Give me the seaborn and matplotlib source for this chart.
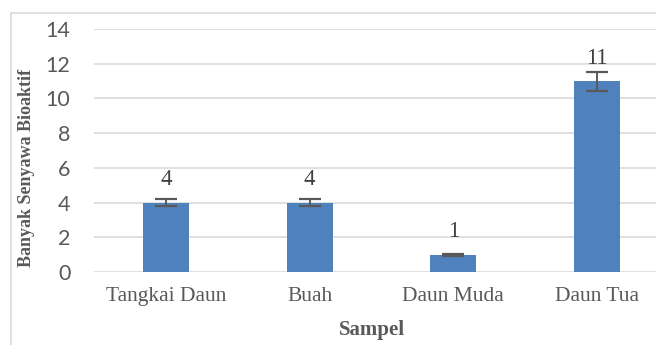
import pandas as pd
import seaborn as sns
import matplotlib.pyplot as plt
from matplotlib.patches import Rectangle

samples = ["Tangkai Daun", "Buah", "Daun Muda", "Daun Tua"]
counts = [4, 4, 1, 11]
errors = [0.2, 0.2, 0.05, 0.55]

df = pd.DataFrame({"Sampel": samples, "Jumlah": counts, "Galat": errors})

sns.set_style("white")
serif = ["Liberation Serif", "DejaVu Serif"]
sans = ["Lato", "DejaVu Sans"]

fig = plt.figure(figsize=(6.56, 3.45), dpi=100)
# frame around the chart (clipped on the right and bottom like the source)
fig.patches.append(Rectangle((11 / 656, -0.1), 1.2, 1.1 - 13 / 345,
                             transform=fig.transFigure, fill=False,
                             edgecolor="#d9d9d9", linewidth=1.2))

# axes spans past the right edge, as in the cropped source
ax = fig.add_axes([94 / 656, 73 / 345, 575 / 656, 243 / 345])

sns.barplot(data=df, x="Sampel", y="Jumlah", color="#4F81BD", saturation=1,
            width=0.32, errorbar=None, linewidth=0, ax=ax)
ax.errorbar(range(len(samples)), df["Jumlah"], yerr=df["Galat"], fmt="none",
            ecolor="#595959", elinewidth=1.4, capsize=8, capthick=1.6)

for i, v in enumerate(counts):
    ax.annotate(str(v), (i, v), xytext=(0, 16.5), textcoords="offset points",
                ha="center", va="center", fontsize=16.5, color="#404040",
                family=serif)

ax.set_ylim(0, 14)
ax.set_yticks(range(0, 15, 2))
ax.set_xlim(-0.5, 3.5)
ax.yaxis.grid(True, color="#d9d9d9", linewidth=1.2)
ax.set_axisbelow(True)
for s in ax.spines.values():
    s.set_visible(False)
ax.tick_params(axis="both", length=0)
ax.tick_params(axis="y", pad=17, labelsize=15.5, labelcolor="#595959")
ax.tick_params(axis="x", pad=11, labelsize=15.5, labelcolor="#595959")
for t in ax.get_yticklabels():
    t.set_family(sans)
for t in ax.get_xticklabels():
    t.set_family(serif)

ax.set_xlabel("Sampel", fontsize=15, fontweight="bold", color="#595959",
              family=serif, va="center")
ax.set_ylabel("Banyak Senyawa Bioaktif", fontsize=13, fontweight="bold",
              color="#595959", family=serif, va="center")
ax.yaxis.set_label_coords(-67 / 575, (272 - 168) / 243)
# keep the x label centred on the visible part of the chart
ax.xaxis.set_label_coords((372 - 94) / 575, -58 / 243)

fig.savefig("out.png", dpi=100)
